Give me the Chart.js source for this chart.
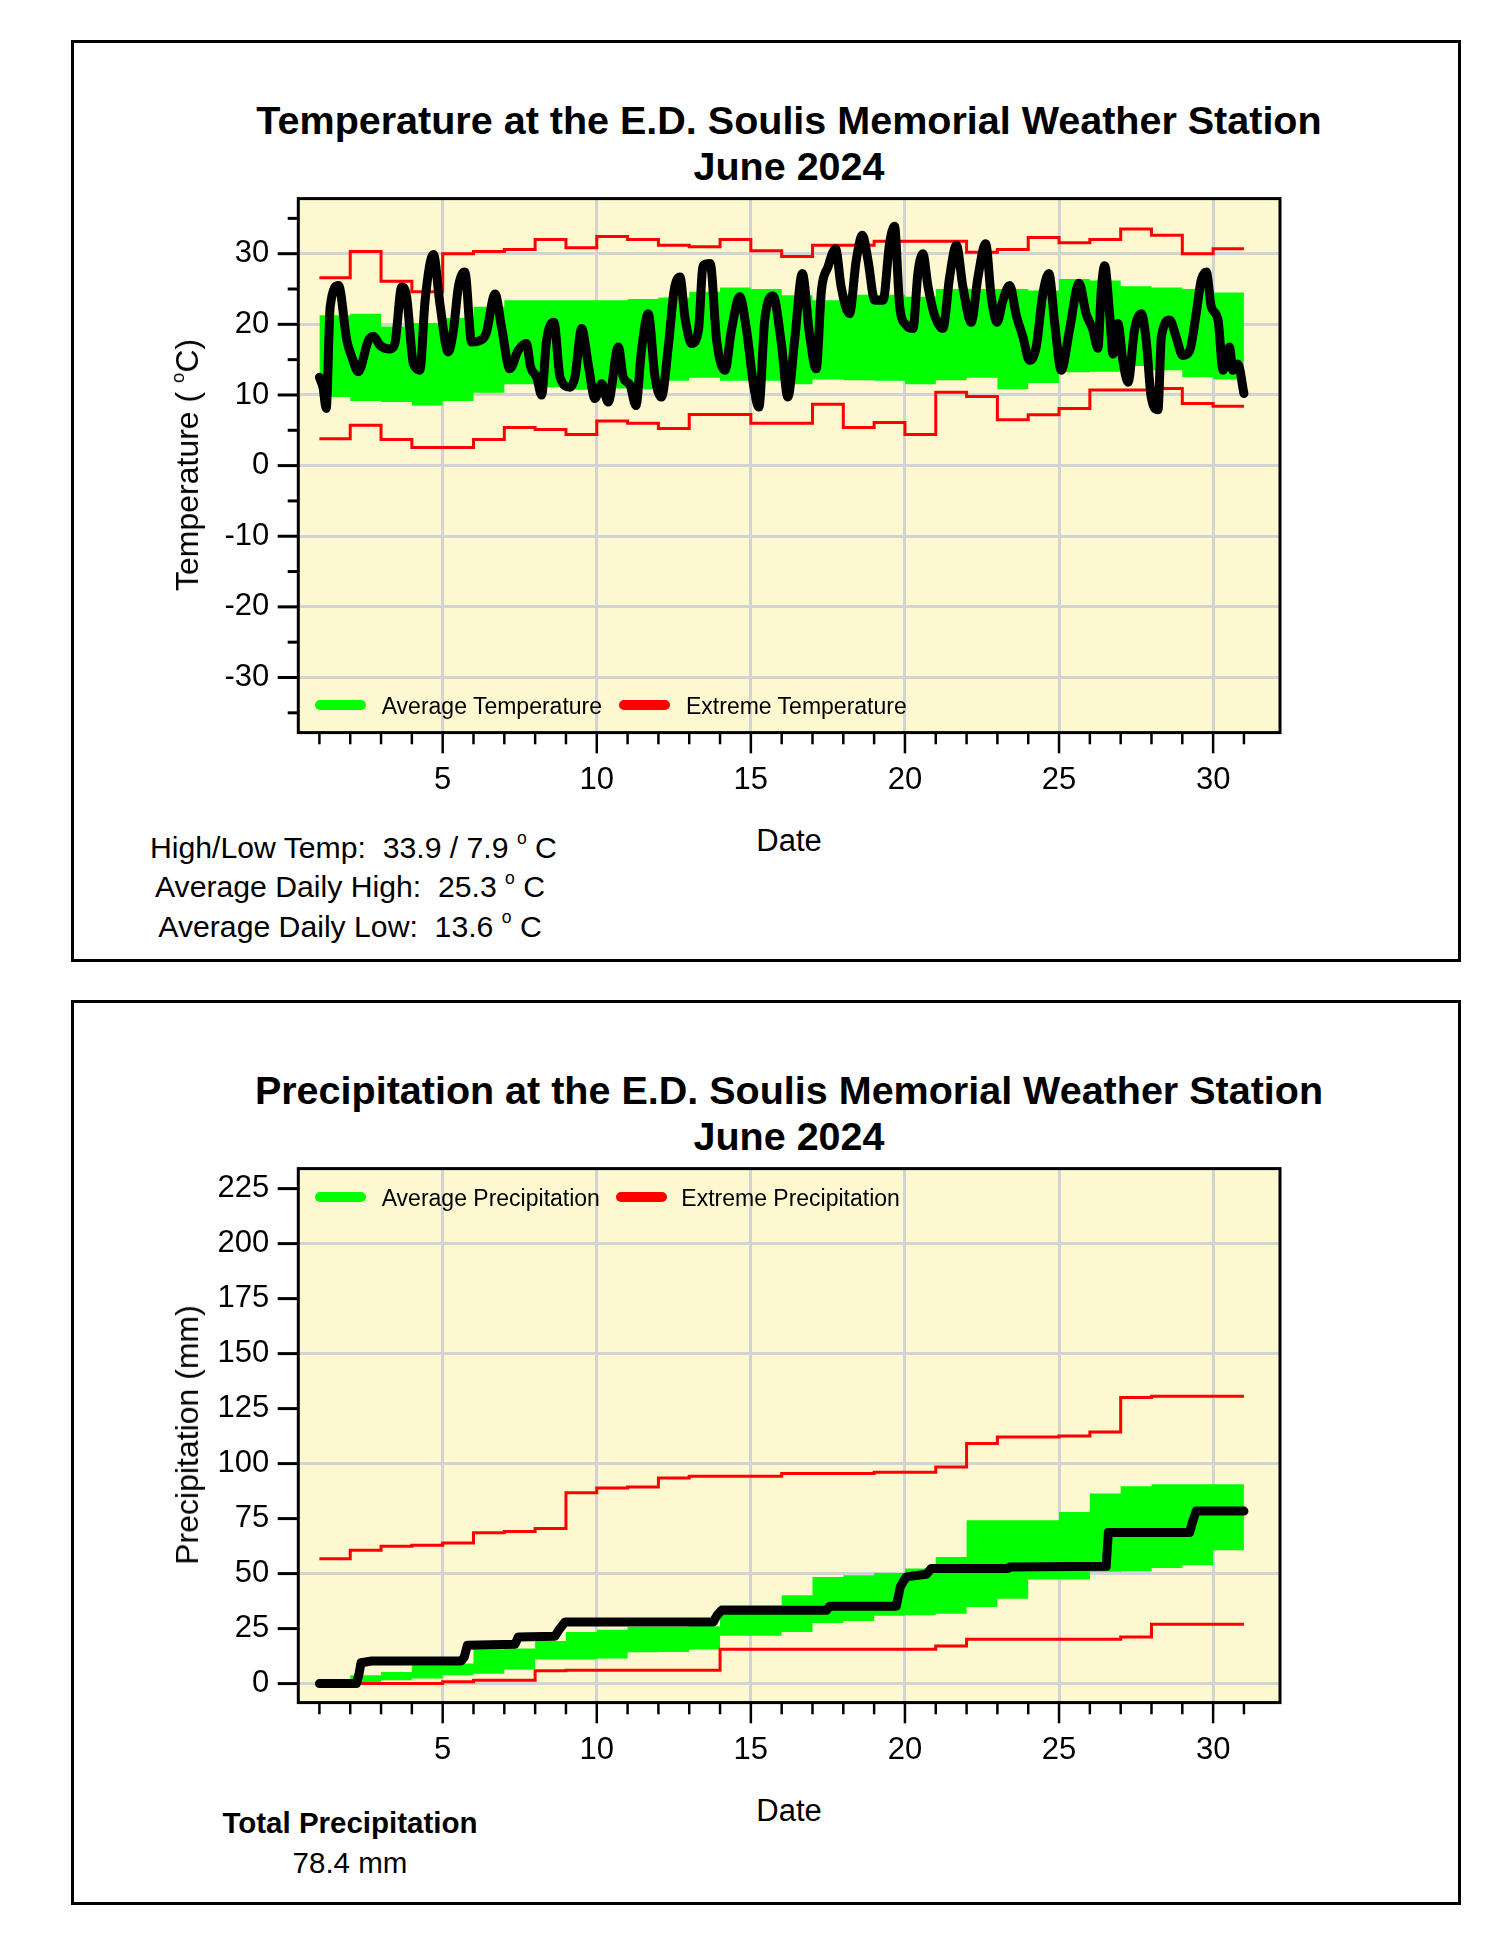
<!DOCTYPE html>
<html>
<head>
<meta charset="utf-8">
<script src="https://cdn.jsdelivr.net/npm/chart.js@4.4.1/dist/chart.umd.min.js"></script>
<style>
    body { margin: 0; background: #fff; font-family: "Liberation Sans", Arial, sans-serif; color: #000; }
    #page { position: relative; width: 1500px; height: 1941px; overflow: hidden; }
    .box { position: absolute; border: 3px solid #000; box-sizing: border-box; }
    .title { position: absolute; left: 189px; width: 1200px; text-align: center; font-weight: bold; font-size: 39.5px; line-height: 46px; white-space: nowrap; }
    .ytitle { position: absolute; font-size: 32px; line-height: 36px; white-space: nowrap; transform: translate(-50%, -50%) rotate(-90deg); }
    .xtitle { position: absolute; left: 689px; width: 200px; text-align: center; font-size: 31px; line-height: 35px; }
    .stats { position: absolute; left: 150px; width: 400px; text-align: center; font-size: 30.2px; line-height: 39.5px; white-space: pre; }
    .sup { font-size: 58%; line-height: 0; position: relative; top: -0.75em; }
    .swatch { position: absolute; height: 9.5px; border-radius: 5px; }
    .legtext { position: absolute; font-size: 23px; line-height: 26px; white-space: nowrap; }
    canvas { position: absolute; }
</style>
</head>
<body>
<div id="page">
    <div class="box" style="left:71px;top:39.5px;width:1390px;height:922.5px"></div>
    <div class="box" style="left:71px;top:999.5px;width:1390px;height:905px"></div>

    <div class="title" style="top:96.6px">Temperature at the E.D. Soulis Memorial Weather Station<br>June 2024</div>
    <div class="title" style="top:1066.6px">Precipitation at the E.D. Soulis Memorial Weather Station<br>June 2024</div>

    <canvas id="tempChart" width="1100" height="660" style="left:198px;top:150.7px;width:1100px;height:660px"></canvas>
    <canvas id="precipChart" width="1100" height="660" style="left:198px;top:1120.7px;width:1100px;height:660px"></canvas>

    <div class="ytitle" style="left:186.5px;top:465.3px">Temperature ( <span class="sup">o</span>C)</div>
    <div class="ytitle" style="left:187px;top:1435.3px">Precipitation (mm)</div>
    <div class="xtitle" style="top:823.2px">Date</div>
    <div class="xtitle" style="top:1793.2px">Date</div>

    <div class="swatch" style="left:315px;top:700px;width:50.7px;background:#00ff00"></div>
    <div class="legtext" style="left:381.7px;top:692.5px">Average Temperature</div>
    <div class="swatch" style="left:619px;top:700px;width:51px;background:#ff0000"></div>
    <div class="legtext" style="left:686px;top:692.5px">Extreme Temperature</div>

    <div class="swatch" style="left:315px;top:1192px;width:50.7px;background:#00ff00"></div>
    <div class="legtext" style="left:381.7px;top:1185px">Average Precipitation</div>
    <div class="swatch" style="left:615.6px;top:1192px;width:51px;background:#ff0000"></div>
    <div class="legtext" style="left:681.3px;top:1185px">Extreme Precipitation</div>

    <div class="stats" style="top:827.5px">High/Low Temp:  33.9 / 7.9 <span class="sup">o</span> C
Average Daily High:  25.3 <span class="sup">o</span> C
Average Daily Low:  13.6 <span class="sup">o</span> C</div>
    <div class="stats" style="top:1803px;line-height:40px;font-size:29.5px"><b>Total Precipitation</b>
78.4 mm</div>
</div>

<script>
// day edges for the daily step series (value i holds from day i to day i+1)
const dayEdges = [1, 2, 3, 4, 5, 6, 7, 8, 9, 10, 11, 12, 13, 14, 15, 16, 17, 18, 19, 20, 21, 22, 23, 24, 25, 26, 27, 28, 29, 30, 31];
const dateLabels = [5, 10, 15, 20, 25, 30];

// Temperature (°C)
const avgHighTemp = [21.3, 21.5, 19.7, 20.2, 20.9, 22.5, 23.4, 23.4, 23.4, 23.4, 23.6, 23.8, 24.6, 25.2, 25.0,
    24.1, 23.4, 24.2, 24.2, 23.9, 25.0, 25.0, 25.0, 24.8, 26.4, 26.2, 25.4, 25.2, 25.0, 24.5];
const avgLowTemp = [9.7, 9.15, 9.0, 8.5, 9.15, 10.3, 11.5, 11.1, 10.75, 10.9, 10.8, 12.0, 12.45, 12.0, 12.0,
    11.5, 12.2, 12.1, 12.0, 11.5, 12.1, 12.45, 10.8, 11.7, 13.2, 13.3, 14.1, 13.5, 12.5, 12.2];
const extremeHighTemp = [26.6, 30.3, 26.1, 24.6, 30.0, 30.3, 30.6, 32.0, 30.85, 32.45, 32.0, 31.2, 31.0, 32.0, 30.4,
    29.6, 31.2, 31.2, 31.75, 31.75, 31.75, 30.2, 30.6, 32.3, 31.55, 32.0, 33.5, 32.6, 30.0, 30.7];
const extremeLowTemp = [3.8, 5.7, 3.7, 2.55, 2.55, 3.7, 5.4, 5.1, 4.4, 6.3, 6.0, 5.25, 7.25, 7.25, 6.0,
    6.0, 8.7, 5.4, 6.1, 4.4, 10.4, 9.8, 6.5, 7.2, 8.1, 10.7, 10.7, 10.9, 8.8, 8.4];

const tempTimes = [1.00, 1.12, 1.22, 1.35, 1.62, 1.89, 2.05, 2.26, 2.59, 2.75, 2.97, 3.29, 3.45, 3.67, 3.83,
    4.05, 4.26, 4.43, 4.70, 4.91, 5.18, 5.35, 5.51, 5.72, 5.94, 6.21, 6.41, 6.70, 6.91, 7.18,
    7.45, 7.72, 7.85, 8.05, 8.21, 8.37, 8.61, 8.81, 9.13, 9.29, 9.51, 9.72, 9.94, 10.16, 10.37,
    10.70, 10.86, 11.08, 11.27, 11.45, 11.67, 11.89, 12.10, 12.32, 12.51, 12.70, 12.86, 13.08, 13.30, 13.45,
    13.68, 13.89, 14.16, 14.37, 14.64, 14.86, 15.08, 15.26, 15.45, 15.72, 15.99, 16.20, 16.42, 16.67, 16.90,
    17.12, 17.29, 17.50, 17.75, 17.93, 18.20, 18.42, 18.62, 18.80, 19.02, 19.29, 19.50, 19.66, 19.83, 20.04,
    20.26, 20.42, 20.58, 20.75, 20.96, 21.23, 21.45, 21.67, 21.88, 22.15, 22.37, 22.62, 22.80, 22.99, 23.18,
    23.40, 23.61, 23.83, 24.04, 24.26, 24.46, 24.67, 24.86, 25.07, 25.34, 25.65, 25.88, 26.10, 26.26, 26.37,
    26.48, 26.64, 26.75, 26.91, 27.07, 27.24, 27.45, 27.67, 27.83, 27.99, 28.21, 28.32, 28.59, 28.80, 29.01,
    29.24, 29.45, 29.61, 29.78, 29.94, 30.16, 30.32, 30.53, 30.64, 30.80, 31.00];
const tempValues = [12.5, 11.0, 8.1, 22.5, 25.5, 17.7, 15.4, 13.3, 17.7, 18.3, 17.0, 16.5, 17.3, 25.3, 23.9,
    14.4, 13.5, 23.4, 29.9, 22.9, 16.1, 19.2, 25.3, 27.4, 17.5, 17.7, 18.7, 24.3, 19.6, 13.7,
    16.3, 17.3, 14.0, 12.5, 10.0, 17.7, 20.3, 12.5, 11.1, 12.5, 19.4, 14.4, 9.5, 11.6, 9.0,
    16.8, 12.5, 11.4, 8.5, 16.3, 21.5, 12.5, 9.7, 16.8, 24.8, 26.7, 21.0, 17.3, 19.2, 28.3,
    28.6, 17.7, 13.5, 19.2, 23.9, 19.2, 11.6, 8.3, 20.6, 24.0, 17.3, 9.7, 17.7, 27.2, 18.7,
    13.7, 24.8, 28.1, 30.7, 25.3, 21.5, 29.1, 32.6, 29.1, 23.4, 23.4, 31.4, 33.9, 22.5, 19.9,
    19.4, 27.2, 30.0, 25.3, 21.3, 19.4, 26.7, 31.2, 25.3, 20.3, 26.7, 31.4, 23.9, 20.3, 23.4,
    25.5, 21.3, 18.2, 14.9, 16.8, 23.9, 27.2, 20.1, 13.5, 19.2, 25.8, 21.5, 19.2, 16.6, 24.8,
    28.3, 21.5, 15.8, 20.1, 14.9, 11.8, 19.2, 21.5, 17.7, 9.7, 7.9, 18.2, 20.6, 18.2, 15.6,
    16.3, 21.5, 26.2, 27.4, 22.5, 20.6, 13.5, 16.8, 13.5, 14.4, 10.2];
const tempTickLabels = [-30, -20, -10, 0, 10, 20, 30];

// Precipitation (mm, cumulative)
const avgHighPrecip = [1.5, 3.8, 5.3, 8.3, 9.1, 15.6, 15.9, 19.4, 23.5, 24.5, 25.8, 25.8, 26.1, 35.6, 35.6,
    40.2, 48.5, 49.2, 50.3, 52.3, 57.6, 74.2, 74.2, 74.2, 78.0, 86.4, 89.7, 90.6, 90.6, 90.6];
const avgLowPrecip = [0, 0.5, 1.5, 2.3, 3.8, 4.5, 6.4, 10.9, 10.9, 11.4, 14.2, 14.4, 15.5, 21.7, 21.7,
    23.5, 27.6, 28.5, 30.8, 31.1, 31.8, 34.8, 38.6, 47.3, 47.3, 50.8, 51.1, 52.6, 53.8, 60.6];
const extremeHighPrecip = [56.8, 60.6, 62.4, 62.9, 63.9, 68.6, 69.1, 70.5, 86.8, 88.9, 89.4, 93.5, 94.2, 94.2, 94.2,
    95.5, 95.5, 95.5, 96.1, 96.1, 98.5, 109.1, 112.1, 112.1, 112.6, 114.4, 130.0, 130.6, 130.6, 130.6];
const extremeLowPrecip = [0, 0, 0, 0, 0.8, 1.5, 1.5, 5.8, 6.1, 6.1, 6.1, 6.1, 6.1, 15.6, 15.6,
    15.6, 15.6, 15.6, 15.6, 15.6, 17.1, 20.2, 20.2, 20.2, 20.2, 20.2, 21.2, 27.0, 27.0, 27.0];

const precipTimes = [1.00, 2.20, 2.28, 2.35, 2.70, 5.60, 5.70, 5.80, 7.35, 7.45, 8.64, 8.75, 8.97, 13.78, 13.90,
    14.05, 17.45, 17.56, 19.72, 19.77, 19.85, 20.04, 20.70, 20.85, 23.34, 23.40, 26.53, 26.60, 29.24, 29.32,
    29.45, 31.00];
const precipValues = [0, 0, 4.0, 9.5, 10.3, 10.3, 12.0, 17.4, 17.9, 21.2, 21.5, 24.0, 28.0, 28.0, 31.0,
    33.3, 33.3, 35.2, 35.2, 38.6, 44.0, 48.5, 49.7, 52.3, 52.3, 53.0, 53.3, 68.7, 68.7, 73.0,
    78.4, 78.4];
const precipTickLabels = [0, 25, 50, 75, 100, 125, 150, 175, 200, 225];

const FONT = "'Liberation Sans', Arial, sans-serif";
const GRID = "#d3d3d3";
const PLOT_BG = "#fef8d0";

function stepData(values) {
    const v = values.concat(values[values.length - 1]);
    return dayEdges.map((d, i) => ({ x: d, y: v[i] }));
}

function pairData(xs, ys) {
    return xs.map((x, i) => ({ x: x, y: ys[i] }));
}

// plot background, black frame and the outside tick marks
const framePlugin = {
    id: "frame",
    beforeDraw(chart) {
        const a = chart.chartArea;
        const ctx = chart.ctx;
        ctx.save();
        ctx.fillStyle = PLOT_BG;
        ctx.fillRect(a.left, a.top, a.right - a.left, a.bottom - a.top);
        ctx.restore();
    },
    afterDraw(chart, args, opts) {
        const a = chart.chartArea;
        const ctx = chart.ctx;
        const xs = chart.scales.x;
        const ys = chart.scales.y;
        ctx.save();
        ctx.strokeStyle = "#000";
        ctx.lineCap = "butt";

        ctx.lineWidth = 2.5;
        dayEdges.forEach(d => {
            const px = xs.getPixelForValue(d);
            const len = d % 5 === 0 ? 20.7 : 11.7;
            ctx.beginPath();
            ctx.moveTo(px, a.bottom);
            ctx.lineTo(px, a.bottom + len);
            ctx.stroke();
        });

        ctx.lineWidth = 3;
        opts.yTicks.forEach(v => {
            const py = ys.getPixelForValue(v);
            const len = v % opts.yMajor === 0 ? 20.6 : 10.6;
            ctx.beginPath();
            ctx.moveTo(a.left, py);
            ctx.lineTo(a.left - len, py);
            ctx.stroke();
        });

        ctx.lineWidth = 3;
        ctx.strokeRect(a.left, a.top, a.right - a.left, a.bottom - a.top);
        ctx.restore();
    }
};

function makeScales(yMin, yMax, yLabels, yGridStep) {
    return {
        x: {
            type: "linear",
            min: 0.315,
            max: 32.17,
            afterBuildTicks: s => { s.ticks = dateLabels.map(v => ({ value: v })); },
            afterFit: s => { s.height = 78.4; },
            ticks: { autoSkip: false, maxRotation: 0, padding: 29, color: "#000",
                font: { family: FONT, size: 31 }, callback: v => String(v) },
            grid: { color: GRID, lineWidth: 3, drawTicks: false },
            border: { display: false }
        },
        y: {
            type: "linear",
            min: yMin,
            max: yMax,
            afterBuildTicks: s => { s.ticks = yLabels.map(v => ({ value: v })); },
            afterFit: s => { s.width = 100.3; },
            ticks: { autoSkip: false, padding: 29, color: "#000",
                font: { family: FONT, size: 31 }, callback: v => String(v) },
            grid: {
                color: c => (c.tick && c.tick.value % yGridStep === 0) ? GRID : "rgba(0,0,0,0)",
                lineWidth: 3,
                drawTicks: false
            },
            border: { display: false }
        }
    };
}

function makeChart(canvasId, cfg) {
    const ctx = document.getElementById(canvasId).getContext("2d");
    return new Chart(ctx, {
        type: "line",
        data: {
            datasets: [
                {
                    label: "Observed",
                    data: pairData(cfg.times, cfg.values),
                    borderColor: "#000",
                    borderWidth: 9,
                    borderCapStyle: "round",
                    borderJoinStyle: "round",
                    cubicInterpolationMode: cfg.smooth ? "monotone" : "default",
                    tension: 0,
                    pointRadius: 0,
                    fill: false,
                    order: 0
                },
                {
                    label: "Extreme high",
                    data: stepData(cfg.extHigh),
                    borderColor: "#ff0000",
                    borderWidth: 3,
                    stepped: true,
                    pointRadius: 0,
                    fill: false,
                    order: 1
                },
                {
                    label: "Extreme low",
                    data: stepData(cfg.extLow),
                    borderColor: "#ff0000",
                    borderWidth: 3,
                    stepped: true,
                    pointRadius: 0,
                    fill: false,
                    order: 2
                },
                {
                    label: "Average high",
                    data: stepData(cfg.avgHigh),
                    borderColor: "rgba(0,0,0,0)",
                    borderWidth: 0,
                    backgroundColor: "#00ff00",
                    stepped: true,
                    pointRadius: 0,
                    fill: "+1",
                    order: 3
                },
                {
                    label: "Average low",
                    data: stepData(cfg.avgLow),
                    borderColor: "rgba(0,0,0,0)",
                    borderWidth: 0,
                    stepped: true,
                    pointRadius: 0,
                    fill: false,
                    order: 4
                }
            ]
        },
        options: {
            responsive: false,
            maintainAspectRatio: false,
            animation: false,
            layout: { padding: { left: 0, top: 0, right: 18, bottom: 0 } },
            scales: makeScales(cfg.yMin, cfg.yMax, cfg.yLabels, cfg.yGridStep),
            plugins: {
                legend: { display: false },
                tooltip: { enabled: false },
                frame: { yTicks: cfg.yTickMarks, yMajor: cfg.yMajor }
            }
        },
        plugins: [framePlugin]
    });
}

makeChart("tempChart", {
    times: tempTimes, values: tempValues, smooth: true,
    avgHigh: avgHighTemp, avgLow: avgLowTemp,
    extHigh: extremeHighTemp, extLow: extremeLowTemp,
    yMin: -37.8, yMax: 37.8, yLabels: tempTickLabels, yGridStep: 10,
    yTickMarks: [-35, -30, -25, -20, -15, -10, -5, 0, 5, 10, 15, 20, 25, 30, 35], yMajor: 10
});

makeChart("precipChart", {
    times: precipTimes, values: precipValues, smooth: false,
    avgHigh: avgHighPrecip, avgLow: avgLowPrecip,
    extHigh: extremeHighPrecip, extLow: extremeLowPrecip,
    yMin: -8.64, yMax: 234.1, yLabels: precipTickLabels, yGridStep: 50,
    yTickMarks: precipTickLabels, yMajor: 25
});
</script>
</body>
</html>
